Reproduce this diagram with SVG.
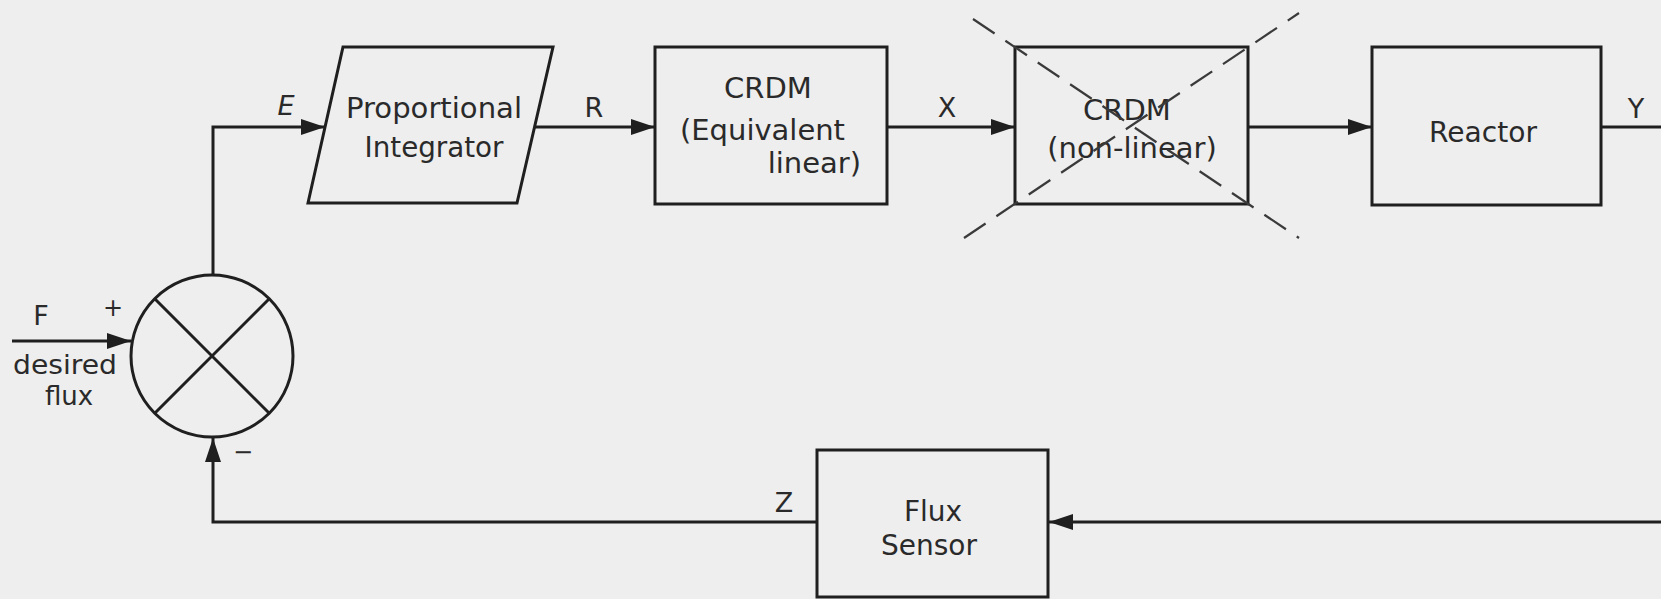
<svg xmlns="http://www.w3.org/2000/svg" width="1661" height="599" viewBox="0 0 1661 599">
<style>
.bg{fill:#eeeeee}
.box{fill:none;stroke:#1f1f1f;stroke-width:3}
.ln{fill:none;stroke:#1f1f1f;stroke-width:3}
.dash{fill:none;stroke:#3a3a3a;stroke-width:2.2;stroke-dasharray:26 13}
.t{font-family:"DejaVu Sans","Liberation Sans",sans-serif;font-size:29px;fill:#2a2a2a;text-anchor:middle}
.s{font-family:"DejaVu Sans","Liberation Sans",sans-serif;font-size:27px;fill:#2a2a2a;text-anchor:middle}
.sm{font-family:"DejaVu Sans","Liberation Sans",sans-serif;font-size:26px;fill:#2a2a2a;text-anchor:middle}
</style>
<defs>
<marker id="ah" viewBox="0 0 24 16" refX="24" refY="8" markerWidth="24" markerHeight="16" markerUnits="userSpaceOnUse" orient="auto">
<path d="M0,0 L24,8 L0,16 z" fill="#1f1f1f"/>
</marker>
</defs>
<rect class="bg" x="0" y="0" width="1661" height="599"/>

<g id="connectors">
<path class="ln" d="M213,275 L213,127 L325,127" marker-end="url(#ah)"/>
<path class="ln" d="M535,127 L655,127" marker-end="url(#ah)"/>
<path class="ln" d="M887,127 L1015,127" marker-end="url(#ah)"/>
<path class="ln" d="M1248,127 L1372,127" marker-end="url(#ah)"/>
<path class="ln" d="M1601,127 L1661,127"/>
<path class="ln" d="M1661,522 L1049,522" marker-end="url(#ah)"/>
<path class="ln" d="M817,522 L213,522 L213,438" marker-end="url(#ah)"/>
<path class="ln" d="M12,341 L131,341" marker-end="url(#ah)"/>
</g>

<g id="sum">
<circle class="ln" cx="212" cy="356" r="81"/>
<path class="ln" d="M155,299 L269,413 M269,299 L155,413"/>
</g>

<g id="prop-integrator">
<polygon class="box" points="343,47 553,47 517,203 308,203"/>
<text class="t" x="434" y="118" textLength="176" lengthAdjust="spacingAndGlyphs">Proportional</text>
<text class="t" x="434" y="157" textLength="139" lengthAdjust="spacingAndGlyphs">Integrator</text>
</g>

<g id="crdm-linear">
<rect class="box" x="655" y="47" width="232" height="157"/>
<text class="t" x="768" y="98">CRDM</text>
<text class="t" x="680" y="140" style="text-anchor:start" textLength="165" lengthAdjust="spacingAndGlyphs">(Equivalent</text>
<text class="t" x="861" y="173" style="text-anchor:end">linear)</text>
</g>

<g id="crdm-nonlinear">
<rect class="box" x="1015" y="47" width="233" height="157"/>
<text class="t" x="1127" y="120">CRDM</text>
<text class="t" x="1132" y="158">(non-linear)</text>
<path class="dash" d="M973,19 L1299,238"/>
<path class="dash" d="M964,238 L1299,13"/>
</g>

<g id="reactor">
<rect class="box" x="1372" y="47" width="229" height="158"/>
<text class="t" x="1483" y="142" textLength="108" lengthAdjust="spacingAndGlyphs">Reactor</text>
</g>

<g id="flux-sensor">
<rect class="box" x="817" y="450" width="231" height="147"/>
<text class="t" x="933" y="521" style="font-size:28px">Flux</text>
<text class="t" x="929" y="555" style="font-size:28px">Sensor</text>
</g>

<g id="labels">
<text class="s" x="286" y="115" font-style="italic">E</text>
<text class="s" x="594" y="117">R</text>
<text class="s" x="947" y="117">X</text>
<text class="s" x="1636" y="118">Y</text>
<text class="s" x="784" y="512">Z</text>
<text class="s" x="41" y="325">F</text>
<text class="s" x="113" y="316" style="font-size:24px">+</text>
<text class="s" x="243" y="460" style="font-size:24px">−</text>
<text class="sm" x="65" y="374" textLength="104" lengthAdjust="spacingAndGlyphs">desired</text>
<text class="sm" x="69" y="405">flux</text>
</g>
</svg>
